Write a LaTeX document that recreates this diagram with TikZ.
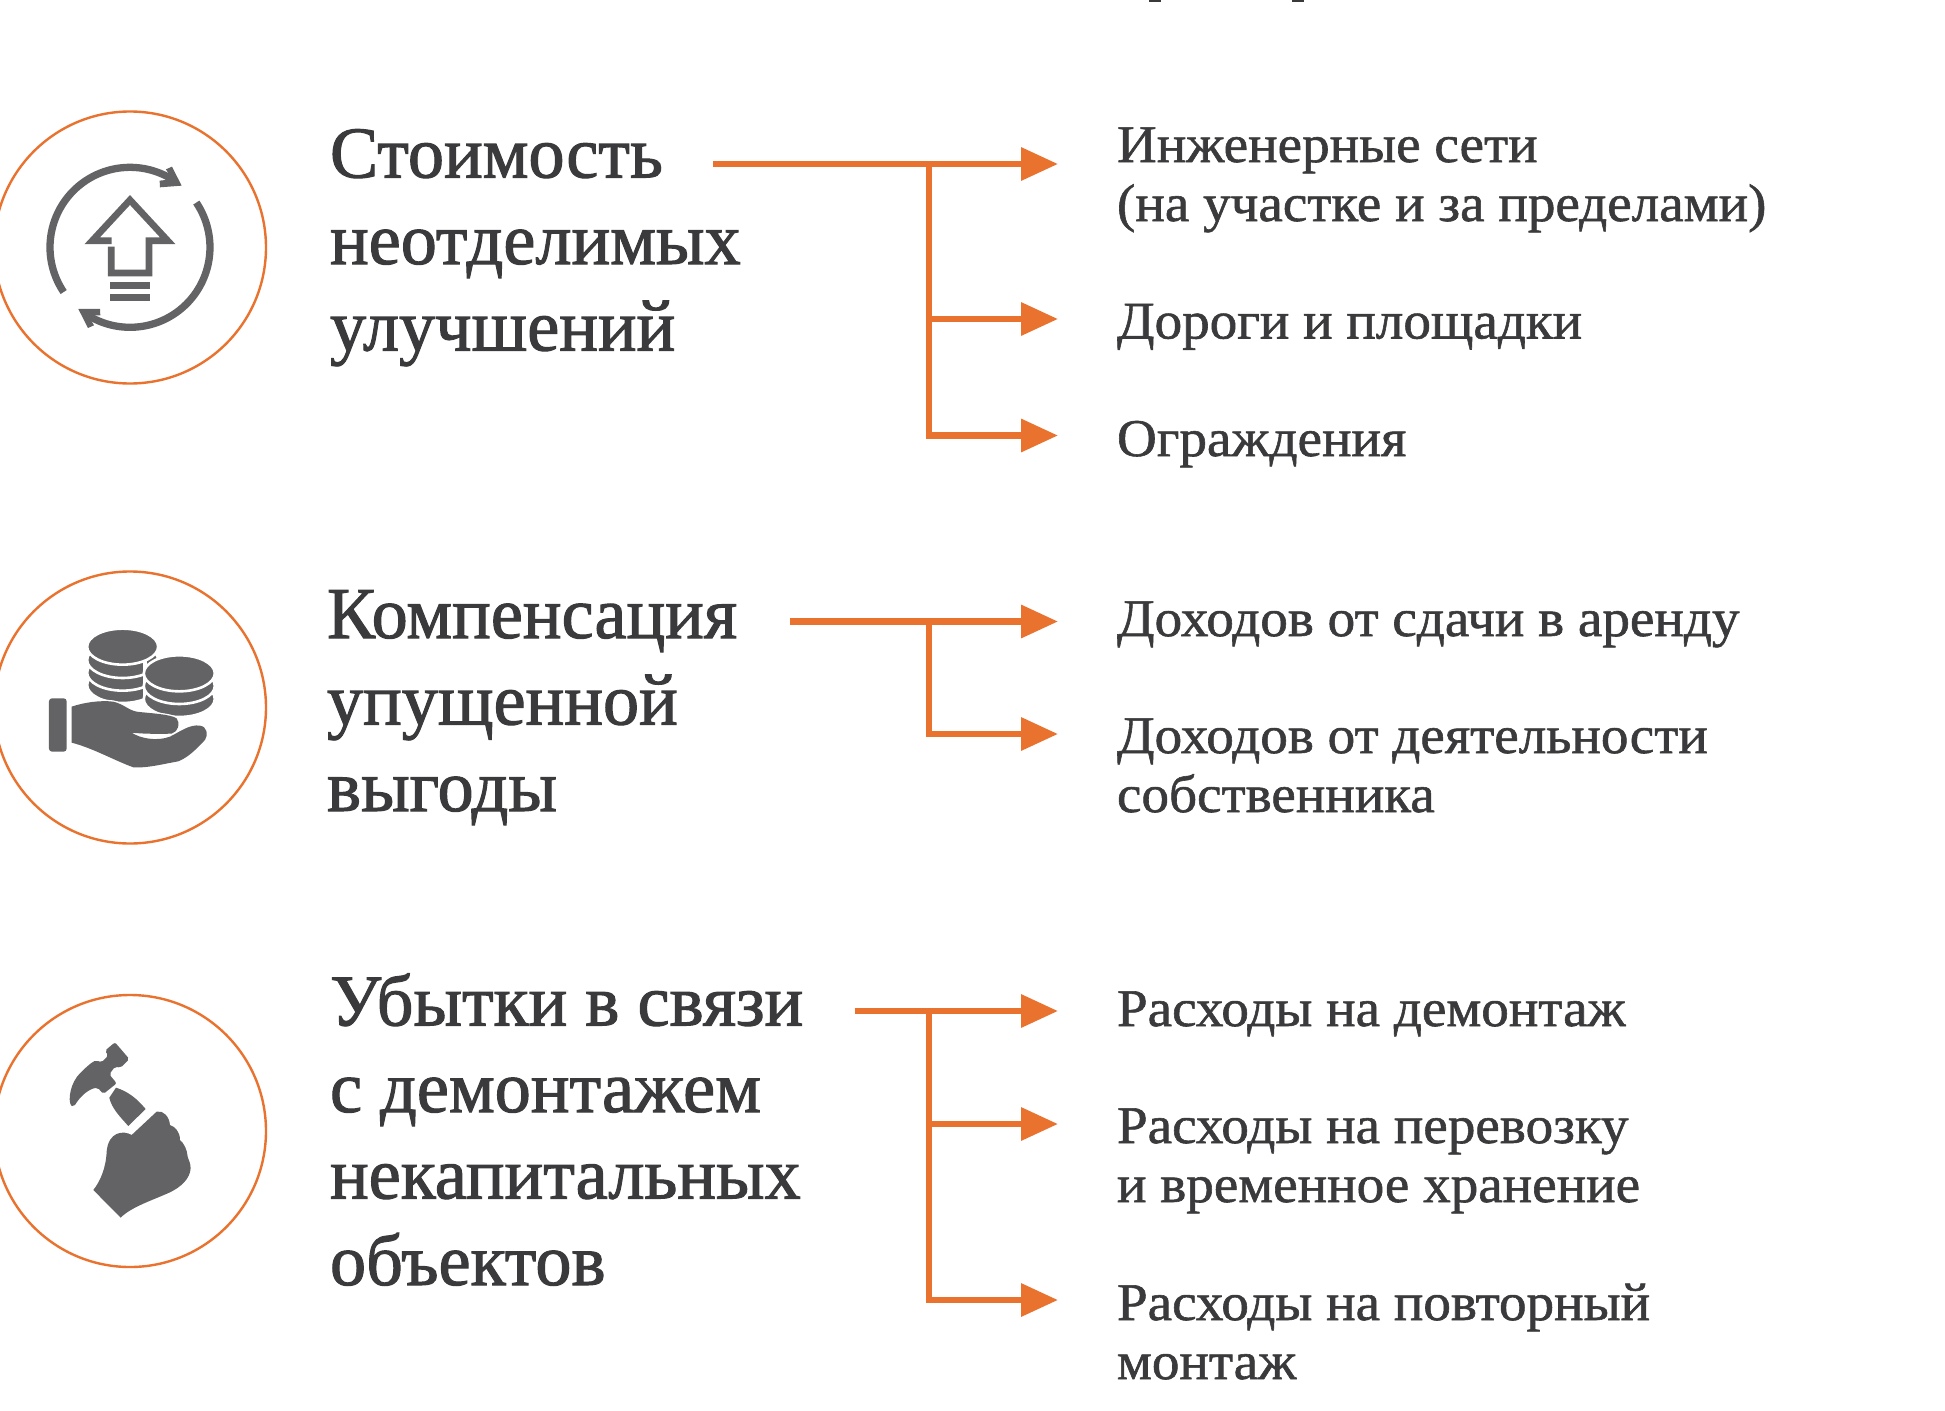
\documentclass[tikz,border=0pt]{standalone}
\usepackage{fontspec}
\setmainfont{Liberation Serif}
\newfontfamily\hdfont[FakeStretch=0.99,FakeBold=1.4]{Liberation Serif}
\newfontfamily\itfont[FakeStretch=1.04,FakeBold=1.1]{Liberation Serif}
\usetikzlibrary{arrows.meta}
\definecolor{acc}{HTML}{E9722E}
\definecolor{ico}{HTML}{636365}
\definecolor{txt}{HTML}{3A3A3C}
\tikzset{
  x=1pt,y=-1pt,
  ring/.style={draw=acc,line width=2.4pt,fill=none,circle,minimum size=272pt,inner sep=0},
  head/.style={anchor=base west,inner sep=0,outer sep=0,align=left,text=txt,font=\hdfont\fontsize{73}{86.5}\selectfont},
  item/.style={anchor=base west,inner sep=0,outer sep=0,align=left,text=txt,font=\itfont\fontsize{53}{59}\selectfont},
  conn/.style={draw=acc,line width=6.5pt,line join=miter,line cap=butt,-{Triangle[length=37pt,width=32pt]}},
  icostroke/.style={draw=ico,line cap=butt,line join=miter},
  coin/.style={fill=ico,draw=white,line width=2.6pt},
  zoomA/.style={shift={(0,90)},x=0.3333pt,y=-0.3333pt},
  zoomB/.style={shift={(0,560)},x=0.3333pt,y=-0.3333pt},
  zoomC/.style={shift={(0,985)},x=0.3333pt,y=-0.3333pt},
}
\begin{document}
\begin{tikzpicture}
\clip (0,0) rectangle (1945,1410);
\fill[white] (0,0) rectangle (1945,1410);
% clipped remains of the line above
\fill[txt] (1149,0) rectangle (1161,2);
\fill[txt] (1292,0) rectangle (1304,2);
% rings
\node[ring] (c1) at (130,247.5) {};
\node[ring] (c2) at (130,707.5) {};
\node[ring] (c3) at (130,1131) {};
% headings
\node[head] (h1) at (330,350.5) {Стоимость\\неотделимых\\улучшений};
\node[head] (h2) at (327,811) {Компенсация\\упущенной\\выгоды};
\node[head] (h3) at (330,1285) {Убытки в связи\\с демонтажем\\некапитальных\\объектов};
% items
\node[item] (i11) at (1117,221) {Инженерные сети\\(на участке и за пределами)};
\node[item] (i12) at (1117,338.5) {Дороги и площадки};
\node[item] (i13) at (1117,456) {Ограждения};
\node[item] (i21) at (1117,636) {Доходов от сдачи в аренду};
\node[item] (i22) at (1117,812) {Доходов от деятельности\\собственника};
\node[item] (i31) at (1117,1026) {Расходы на демонтаж};
\node[item] (i32) at (1117,1202) {Расходы на перевозку\\и временное хранение};
\node[item] (i33) at (1117,1379) {Расходы на повторный\\монтаж};
% connector ends
\coordinate (s1) at (713,164); \coordinate (j1) at (929,164);
\coordinate (t11) at (1058,164); \coordinate (t12) at (1058,319); \coordinate (t13) at (1058,435.5);
\coordinate (s2) at (790,621.5); \coordinate (j2) at (929,621.5);
\coordinate (t21) at (1058,621.5); \coordinate (t22) at (1058,734);
\coordinate (s3) at (854.5,1011); \coordinate (j3) at (929,1011);
\coordinate (t31) at (1058,1011); \coordinate (t32) at (1058,1124); \coordinate (t33) at (1058,1300);
\draw[conn] (s1) -- (t11);
\draw[conn] (j1) |- (t12);
\draw[conn] (j1) |- (t13);
\draw[conn] (s2) -- (t21);
\draw[conn] (j2) |- (t22);
\draw[conn] (s3) -- (t31);
\draw[conn] (j3) |- (t32);
\draw[conn] (j3) |- (t33);
% icon 1
\begin{scope}[zoomA]
  \draw[icostroke,line width=7.3pt] plot[domain=57:214,samples=70] ({390+240*cos(\x)},{472-240*sin(\x)});
  \draw[icostroke,line width=7.3pt] plot[domain=-122:34,samples=70] ({390+240*cos(\x)},{472-240*sin(\x)});
  \fill[ico] (516,230) -- (545,287) -- (480,292) -- (479,272) -- (516,268) -- (498,238) -- cycle;
  \fill[ico] (264,714) -- (235,657) -- (300,657) -- (301,676) -- (264,676) -- (282,706) -- cycle;
  \draw[icostroke,line width=6.7pt] (335,452) -- (277,452) -- (390,330) -- (503,452) -- (447,452) -- (447,549) -- (334,549) -- (334,470);
  \fill[ico] (330,577) rectangle (450,597);
  \fill[ico] (330,613) rectangle (450,633);
\end{scope}
% icon 2
\begin{scope}[zoomB]
  \foreach \cy in {375,338,300,260} {\path[coin] (368,\cy) ellipse[x radius=35.5pt,y radius=18pt];}
  \fill[white] (430,300) rectangle (440,440);
  \foreach \cy in {417,378,340} {\path[coin] (538,\cy) ellipse[x radius=35.5pt,y radius=18pt];}
  \fill[ico,rounded corners=3pt] (147,415) rectangle (200,575);
  \def\handpath{(215,440) .. controls (250,428) and (300,420) .. (340,425)
    .. controls (370,432) and (385,450) .. (410,455)
    .. controls (450,460) and (510,462) .. (530,475)
    .. controls (542,490) and (535,515) .. (515,521)
    .. controls (480,522) and (430,522) .. (395,518)
    .. controls (420,535) and (470,545) .. (510,530)
    .. controls (540,515) and (570,492) .. (600,497)
    .. controls (622,500) and (625,525) .. (615,540)
    .. controls (595,560) and (570,590) .. (535,604)
    .. controls (490,612) and (440,625) .. (400,622)
    .. controls (340,600) and (280,565) .. (215,548) -- cycle}
  \path[draw=white,line width=2.6pt] \handpath;
  \fill[ico] \handpath;
\end{scope}
% icon 3
\begin{scope}[zoomC]
  \fill[ico,rounded corners=2pt] (345,172) -- (388,222) -- (362,248) -- (345,245) -- (328,268) -- (350,295) -- (310,327) -- (293,308)
    .. controls (265,312) and (240,335) .. (222,365)
    .. controls (205,360) and (205,310) .. (235,270)
    .. controls (255,250) and (270,235) .. (288,226)
    -- (305,232) -- (325,212) -- (315,197) -- cycle;
  \fill[ico] (348,308) .. controls (385,320) and (410,340) .. (437,372) -- (385,423) .. controls (360,395) and (335,370) .. (328,338) -- cycle;
  \fill[ico] (280,615) -- (362,698)
    .. controls (395,665) and (460,645) .. (510,622)
    .. controls (545,605) and (570,580) .. (572,550)
    .. controls (572,535) and (566,525) .. (563,515)
    .. controls (562,495) and (552,475) .. (540,465)
    .. controls (540,440) and (525,425) .. (510,420)
    .. controls (508,395) and (490,375) .. (470,380)
    -- (395,450)
    .. controls (370,435) and (325,440) .. (320,500)
    .. controls (318,550) and (300,590) .. (280,615) -- cycle;
\end{scope}
\end{tikzpicture}
\end{document}
